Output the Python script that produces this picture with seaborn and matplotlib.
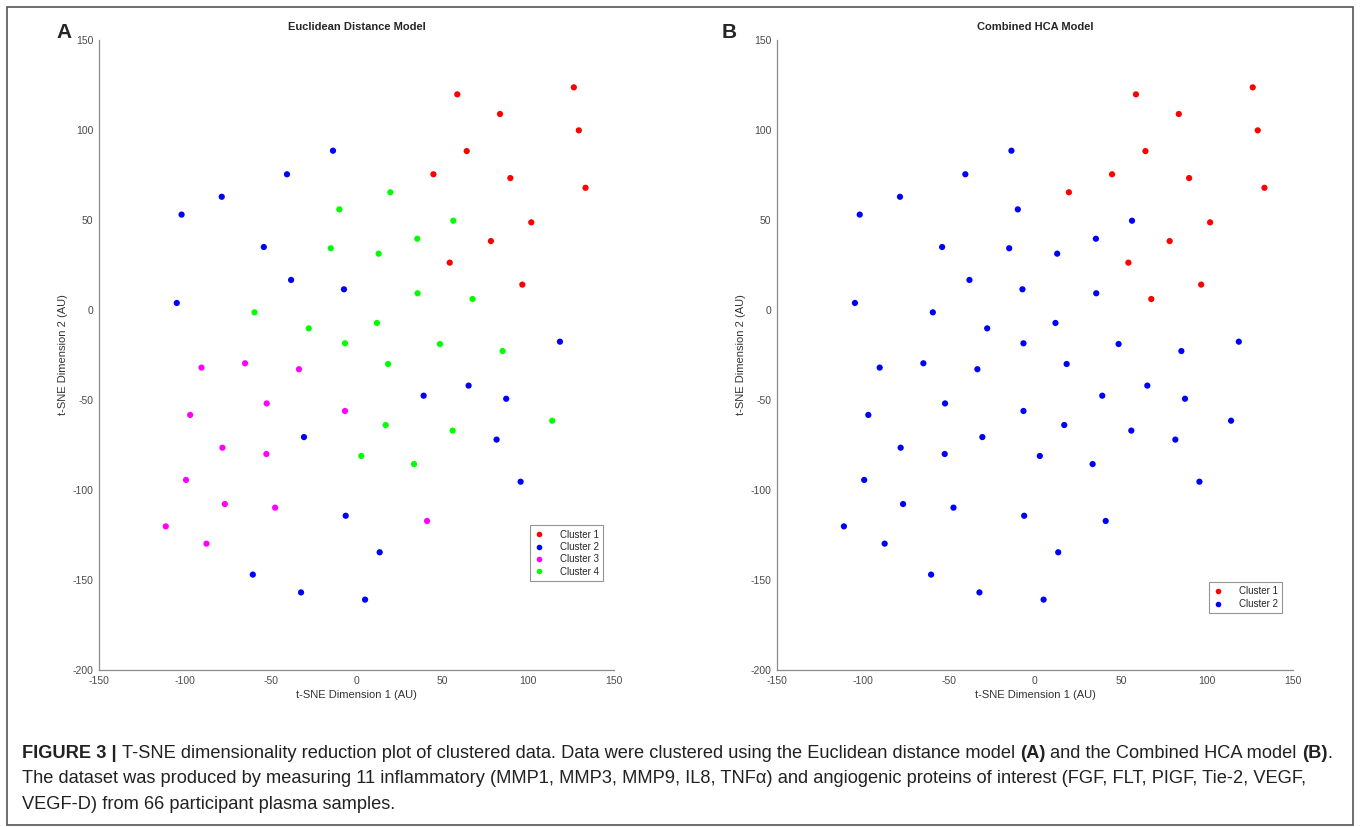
import matplotlib
matplotlib.use("Agg")
import matplotlib.pyplot as plt
import pandas as pd
import seaborn as sns
from matplotlib import font_manager
from matplotlib.patches import Rectangle
from matplotlib.transforms import IdentityTransform

# t-SNE coordinates (66 samples)
tsne_x = [58.7, 126.6, 83.6, 129.5, 64.2, 44.8, 89.6, 133.4, 101.8, 78.3, 54.3, 96.6,
          -13.7, -40.5, -78.5, -101.9, -54.0, -38.1, -7.3, -104.7, -30.6, 118.5,
          65.3, 39.1, 87.2, 81.6, -6.3, -60.4, -32.3, 95.6, 13.5, 5.0,
          -90.3, -64.9, -33.5, -52.3, -6.7, -96.9, -78.1, -52.5, -99.3, -76.7,
          -47.4, -111.1, -87.4, 41.1,
          -10.0, -15.0, 19.7, 56.4, 35.4, -59.4, -27.8, -6.7, 12.9, 35.6,
          67.6, 11.9, 48.6, 85.1, 18.4, 17.0, 56.0, 114.0, 2.8, 33.5]
tsne_y = [119.8, 123.7, 108.9, 99.8, 88.3, 75.4, 73.3, 67.9, 48.7, 38.3, 26.3, 14.1,
          88.5, 75.4, 62.9, 53.0, 35.0, 16.7, 11.5, 3.9, -70.6, -17.6,
          -42.0, -47.6, -49.3, -72.0, -114.3, -147.0, -156.9, -95.4, -134.6, -160.9,
          -32.0, -29.6, -32.9, -51.9, -56.1, -58.3, -76.5, -80.0, -94.4, -107.8,
          -109.8, -120.2, -129.8, -117.2,
          55.9, 34.3, 65.4, 49.6, 39.6, -1.3, -10.2, -18.5, 31.3, 9.3,
          6.1, -7.2, -18.9, -22.8, -30.0, -63.9, -67.0, -61.5, -81.1, -85.6]
cluster_a = [1, 1, 1, 1, 1, 1, 1, 1, 1, 1, 1, 1,
             2, 2, 2, 2, 2, 2, 2, 2, 2, 2,
             2, 2, 2, 2, 2, 2, 2, 2, 2, 2,
             3, 3, 3, 3, 3, 3, 3, 3, 3, 3,
             3, 3, 3, 3,
             4, 4, 4, 4, 4, 4, 4, 4, 4, 4,
             4, 4, 4, 4, 4, 4, 4, 4, 4, 4]
cluster_b = [1, 1, 1, 1, 1, 1, 1, 1, 1, 1, 1, 1,
             2, 2, 2, 2, 2, 2, 2, 2, 2, 2,
             2, 2, 2, 2, 2, 2, 2, 2, 2, 2,
             2, 2, 2, 2, 2, 2, 2, 2, 2, 2,
             2, 2, 2, 2,
             2, 2, 1, 2, 2, 2, 2, 2, 2, 2,
             1, 2, 2, 2, 2, 2, 2, 2, 2, 2]

x_ticks = [-150, -100, -50, 0, 50, 100, 150]
y_ticks = [-200, -150, -100, -50, 0, 50, 100, 150]
cluster_colors = {"Cluster 1": "#ff0000", "Cluster 2": "#0000ff",
                  "Cluster 3": "#ff00ff", "Cluster 4": "#00ff00"}

df = pd.DataFrame({"x": tsne_x, "y": tsne_y,
                   "A": ["Cluster %d" % c for c in cluster_a],
                   "B": ["Cluster %d" % c for c in cluster_b]})

sns.set_style("white")
plt.rcParams["font.family"] = ["Liberation Sans", "DejaVu Sans"]
plt.rcParams["axes.unicode_minus"] = False

W, H = 1362, 827
fig = plt.figure(figsize=(W / 100, H / 100), dpi=100)


def px_axes(left, top, right, bottom):
    return fig.add_axes([left / W, 1 - bottom / H, (right - left) / W, (bottom - top) / H])


panels = [
    ("A", "Euclidean Distance Model", px_axes(99, 40, 614, 670), 64, (0.979, 0.141)),
    ("B", "Combined HCA Model", px_axes(777, 40, 1293, 670), 729, (0.979, 0.090)),
]

for col, title, ax, letter_x, leg_anchor in panels:
    order = sorted(df[col].unique())
    sns.scatterplot(data=df, x="x", y="y", hue=col, hue_order=order,
                    palette=cluster_colors, s=20, linewidth=0, ax=ax)
    ax.set_xlim(-150, 150)
    ax.set_ylim(-200, 150)
    ax.set_xticks(x_ticks)
    ax.set_yticks(y_ticks)
    sns.despine(ax=ax)
    for side in ["left", "bottom"]:
        ax.spines[side].set_color("#8a8a8a")
        ax.spines[side].set_linewidth(0.9)
    ax.tick_params(direction="in", length=4, width=0.8, color="#8a8a8a",
                   labelcolor="#4a4a4a", labelsize=7.5, pad=4)
    ax.set_xlabel("t-SNE Dimension 1 (AU)", fontsize=8, color="#333333", labelpad=3)
    ax.set_ylabel("t-SNE Dimension 2 (AU)", fontsize=8, color="#333333", labelpad=3)
    ax.set_title(title, fontsize=8, fontweight="bold", pad=7)
    handles, labels = ax.get_legend_handles_labels()
    leg = ax.legend(handles, labels, loc="lower right", bbox_to_anchor=leg_anchor,
                    fontsize=7, frameon=True, fancybox=False, handlelength=1,
                    handletextpad=1.6, borderpad=0.45, labelspacing=0.25,
                    markerscale=0.9, borderaxespad=0)
    leg.get_frame().set_edgecolor("#7a7a7a")
    leg.get_frame().set_linewidth(0.8)
    fig.text(letter_x, H - 32, col, transform=IdentityTransform(), fontsize=15,
             fontweight="bold", ha="center", va="center")

# outer frame of the figure
fig.patches.append(Rectangle((7 / W, 2 / H), 1346 / W, 818 / H, transform=fig.transFigure,
                             fill=False, edgecolor="#555555", linewidth=1.2))

# caption with bold runs
names = {f.name for f in font_manager.fontManager.ttflist}
cap_family = ["Liberation Sans Narrow", "DejaVu Sans"] if "Liberation Sans Narrow" in names \
    else ["Liberation Sans", "DejaVu Sans"]
renderer = fig.canvas.get_renderer()


def put_runs(runs, x, y, size):
    p1 = fig.text(0, 0, "a a", fontsize=size, family=cap_family)
    p2 = fig.text(0, 0, "aa", fontsize=size, family=cap_family)
    gap = p1.get_window_extent(renderer).width - p2.get_window_extent(renderer).width
    p1.remove()
    p2.remove()
    made = []
    for s, bold, space in runs:
        t = fig.text(x, y, s, transform=IdentityTransform(), fontsize=size,
                     fontweight="bold" if bold else "normal", family=cap_family,
                     va="baseline", ha="left", color="#222222")
        made.append(t)
        x = t.get_window_extent(renderer).x1 + (gap if space else 0)
    return x, made


line1 = [("FIGURE 3 |", True, True),
         ("T-SNE dimensionality reduction plot of clustered data. Data were clustered using the "
          "Euclidean distance model", False, True),
         ("(A)", True, True), ("and the Combined HCA model", False, True),
         ("(B)", True, False), (".", False, False)]
line2 = [("The dataset was produced by measuring 11 inflammatory (MMP1, MMP3, MMP9, IL8, TNF\u03b1) "
          "and angiogenic proteins of interest (FGF, FLT, PIGF, Tie-2, VEGF,", False, False)]
line3 = [("VEGF-D) from 66 participant plasma samples.", False, False)]

x0 = 22
end, tmp = put_runs(line1, x0, 0, 12)
for t in tmp:
    t.remove()
cap_size = 12 * (1335 - x0) / (end - x0)

for runs, base in [(line1, 758), (line2, 783), (line3, 809)]:
    put_runs(runs, x0, H - base, cap_size)

fig.savefig("out.png", dpi=100)
